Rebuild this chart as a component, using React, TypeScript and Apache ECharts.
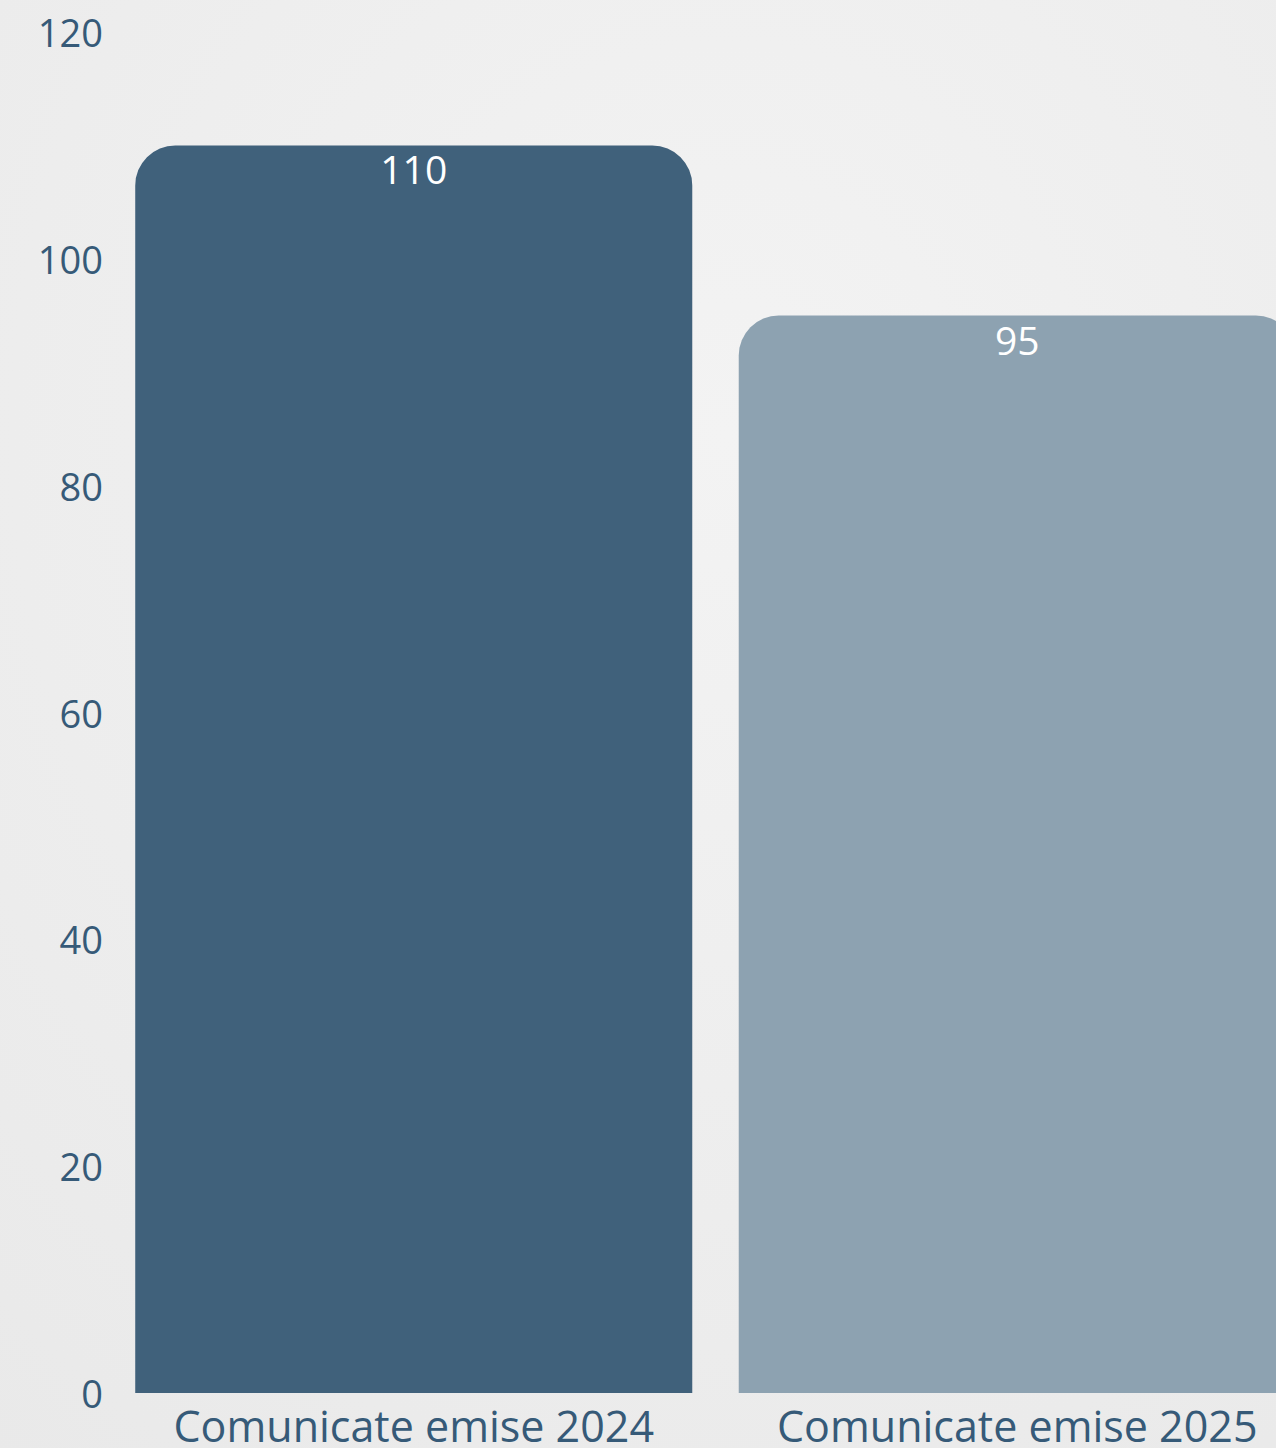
import React, { useEffect, useRef } from "react";
import * as echarts from "echarts";

const categories = ["Comunicate emise 2024", "Comunicate emise 2025"];
const values = [110, 95];
const barColors = ["#40617b", "#8da2b1"];
const yTicks = [0, 20, 40, 60, 80, 100, 120];

export default function App() {
  const ref = useRef<HTMLDivElement>(null);
  useEffect(() => {
    document.body.style.margin = "0";
    const chart = echarts.init(ref.current!, undefined, { renderer: "svg" });
    chart.setOption({
      animation: false,
      backgroundColor: {
        type: "radial",
        x: 0.55,
        y: 0.3,
        r: 0.9,
        colorStops: [
          { offset: 0, color: "#f3f3f3" },
          { offset: 1, color: "#e9e9e9" },
        ],
      },
      grid: { left: 112, top: 32, bottom: 55, right: 1 },
      xAxis: {
        type: "category",
        data: categories,
        axisLine: { show: false },
        axisTick: { show: false },
        axisLabel: {
          interval: 0,
          hideOverlap: false,
          color: "#365a78",
          fontFamily: "Open Sans",
          fontSize: 43,
          lineHeight: 40,
          margin: 12,
        },
      },
      yAxis: {
        type: "value",
        min: yTicks[0],
        max: yTicks[yTicks.length - 1],
        interval: 20,
        splitLine: { show: false },
        axisLine: { show: false },
        axisTick: { show: false },
        axisLabel: {
          color: "#365a78",
          fontFamily: "Open Sans",
          fontSize: 38,
          margin: 9,
        },
      },
      series: [
        {
          type: "bar",
          barWidth: "92.3%",
          data: values.map((v, i) => ({
            value: v,
            itemStyle: { color: barColors[i], borderRadius: [40, 40, 0, 0] },
          })),
          label: {
            show: true,
            position: "insideTop",
            distance: 4,
            color: "#ffffff",
            fontFamily: "Open Sans",
            fontSize: 39,
          },
        },
      ],
    });
    return () => chart.dispose();
  }, []);
  return (
    <div style={{ width: 1276, height: 1448, overflow: "hidden" }}>
      <div ref={ref} style={{ width: 1320, height: 1448 }} />
    </div>
  );
}
